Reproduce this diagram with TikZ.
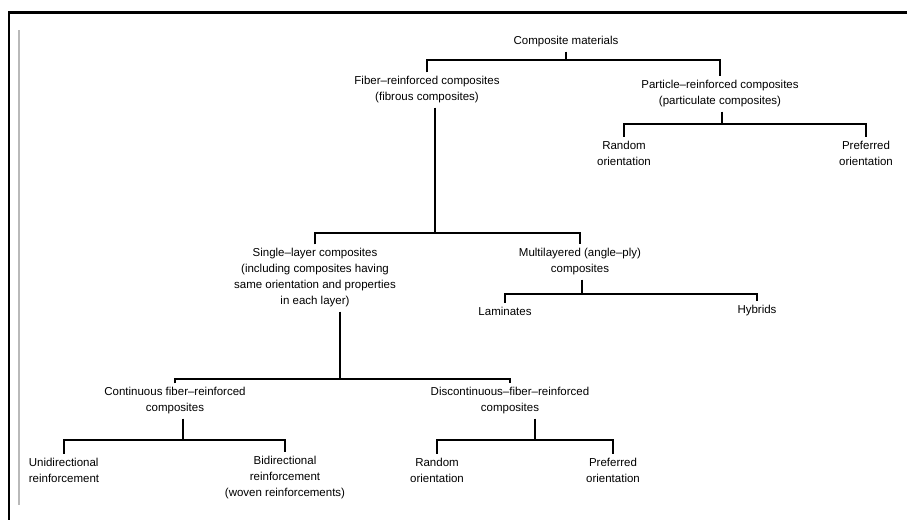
\documentclass[tikz,border=0pt]{standalone}
\usepackage{fontspec}
\setmainfont{Liberation Sans}
\usepackage{tikz}

\begin{document}
\begin{tikzpicture}[x=1pt,y=-1pt,
    lbl/.style={align=center,inner sep=4pt,font=\fontsize{11.5}{16}\selectfont},
    bar/.style={line width=1.3pt}]
    \useasboundingbox (0,0) rectangle (907,520);
    % frame
    \draw[line width=3pt] (8,12) -- (907,12);
    \draw[line width=2pt] (9,11) -- (9,520);
    \draw[gray!55,line width=1.5pt] (19,30) -- (19,505);
    % labels
    \node[lbl] (root) at (566,42) {Composite materials};
    \node[lbl] (fib) at (427,90) {Fiber–reinforced composites\\(fibrous composites)};
    \node[lbl] (par) at (720,94) {Particle–reinforced composites\\(particulate composites)};
    \node[lbl] (prand) at (624,153) {Random\\orientation};
    \node[lbl] (ppref) at (866,153) {Preferred\\orientation};
    \node[lbl] (single) at (315,278) {Single–layer composites\\(including composites having\\same orientation and properties\\in each layer)};
    \node[lbl] (multi) at (580,262) {Multilayered (angle–ply)\\composites};
    \node[lbl] (lam) at (505,311) {Laminates};
    \node[lbl] (hyb) at (757,311) {Hybrids};
    \node[lbl] (cont) at (175,401) {Continuous fiber–reinforced\\composites};
    \node[lbl] (disc) at (510,401) {Discontinuous–fiber–reinforced\\composites};
    \node[lbl,align=left] (uni) at (64,470) {Unidirectional\\reinforcement};
    \node[lbl] (bi) at (285,478) {Bidirectional\\reinforcement\\(woven reinforcements)};
    \node[lbl] (drand) at (437,470) {Random\\orientation};
    \node[lbl] (dpref) at (613,470) {Preferred\\orientation};
    % branch points
    \coordinate (j1) at (566,60);
    \coordinate (j2) at (722,124);
    \coordinate (j3) at (435,233);
    \coordinate (j4) at (582,294);
    \coordinate (j5) at (340,379);
    \coordinate (j6) at (183,440);
    \coordinate (j7) at (535,440);
    \foreach \p/\j/\l/\r in {root/j1/fib/par, par/j2/prand/ppref,
      fib/j3/single/multi, multi/j4/lam/hyb, single/j5/cont/disc,
      cont/j6/uni/bi, disc/j7/drand/dpref}{
      \draw[bar] (\p.south -| \j) -- (\j);
      \draw[bar] (\l.north) |- (\j) -| (\r.north);
    }
\end{tikzpicture}
\end{document}
